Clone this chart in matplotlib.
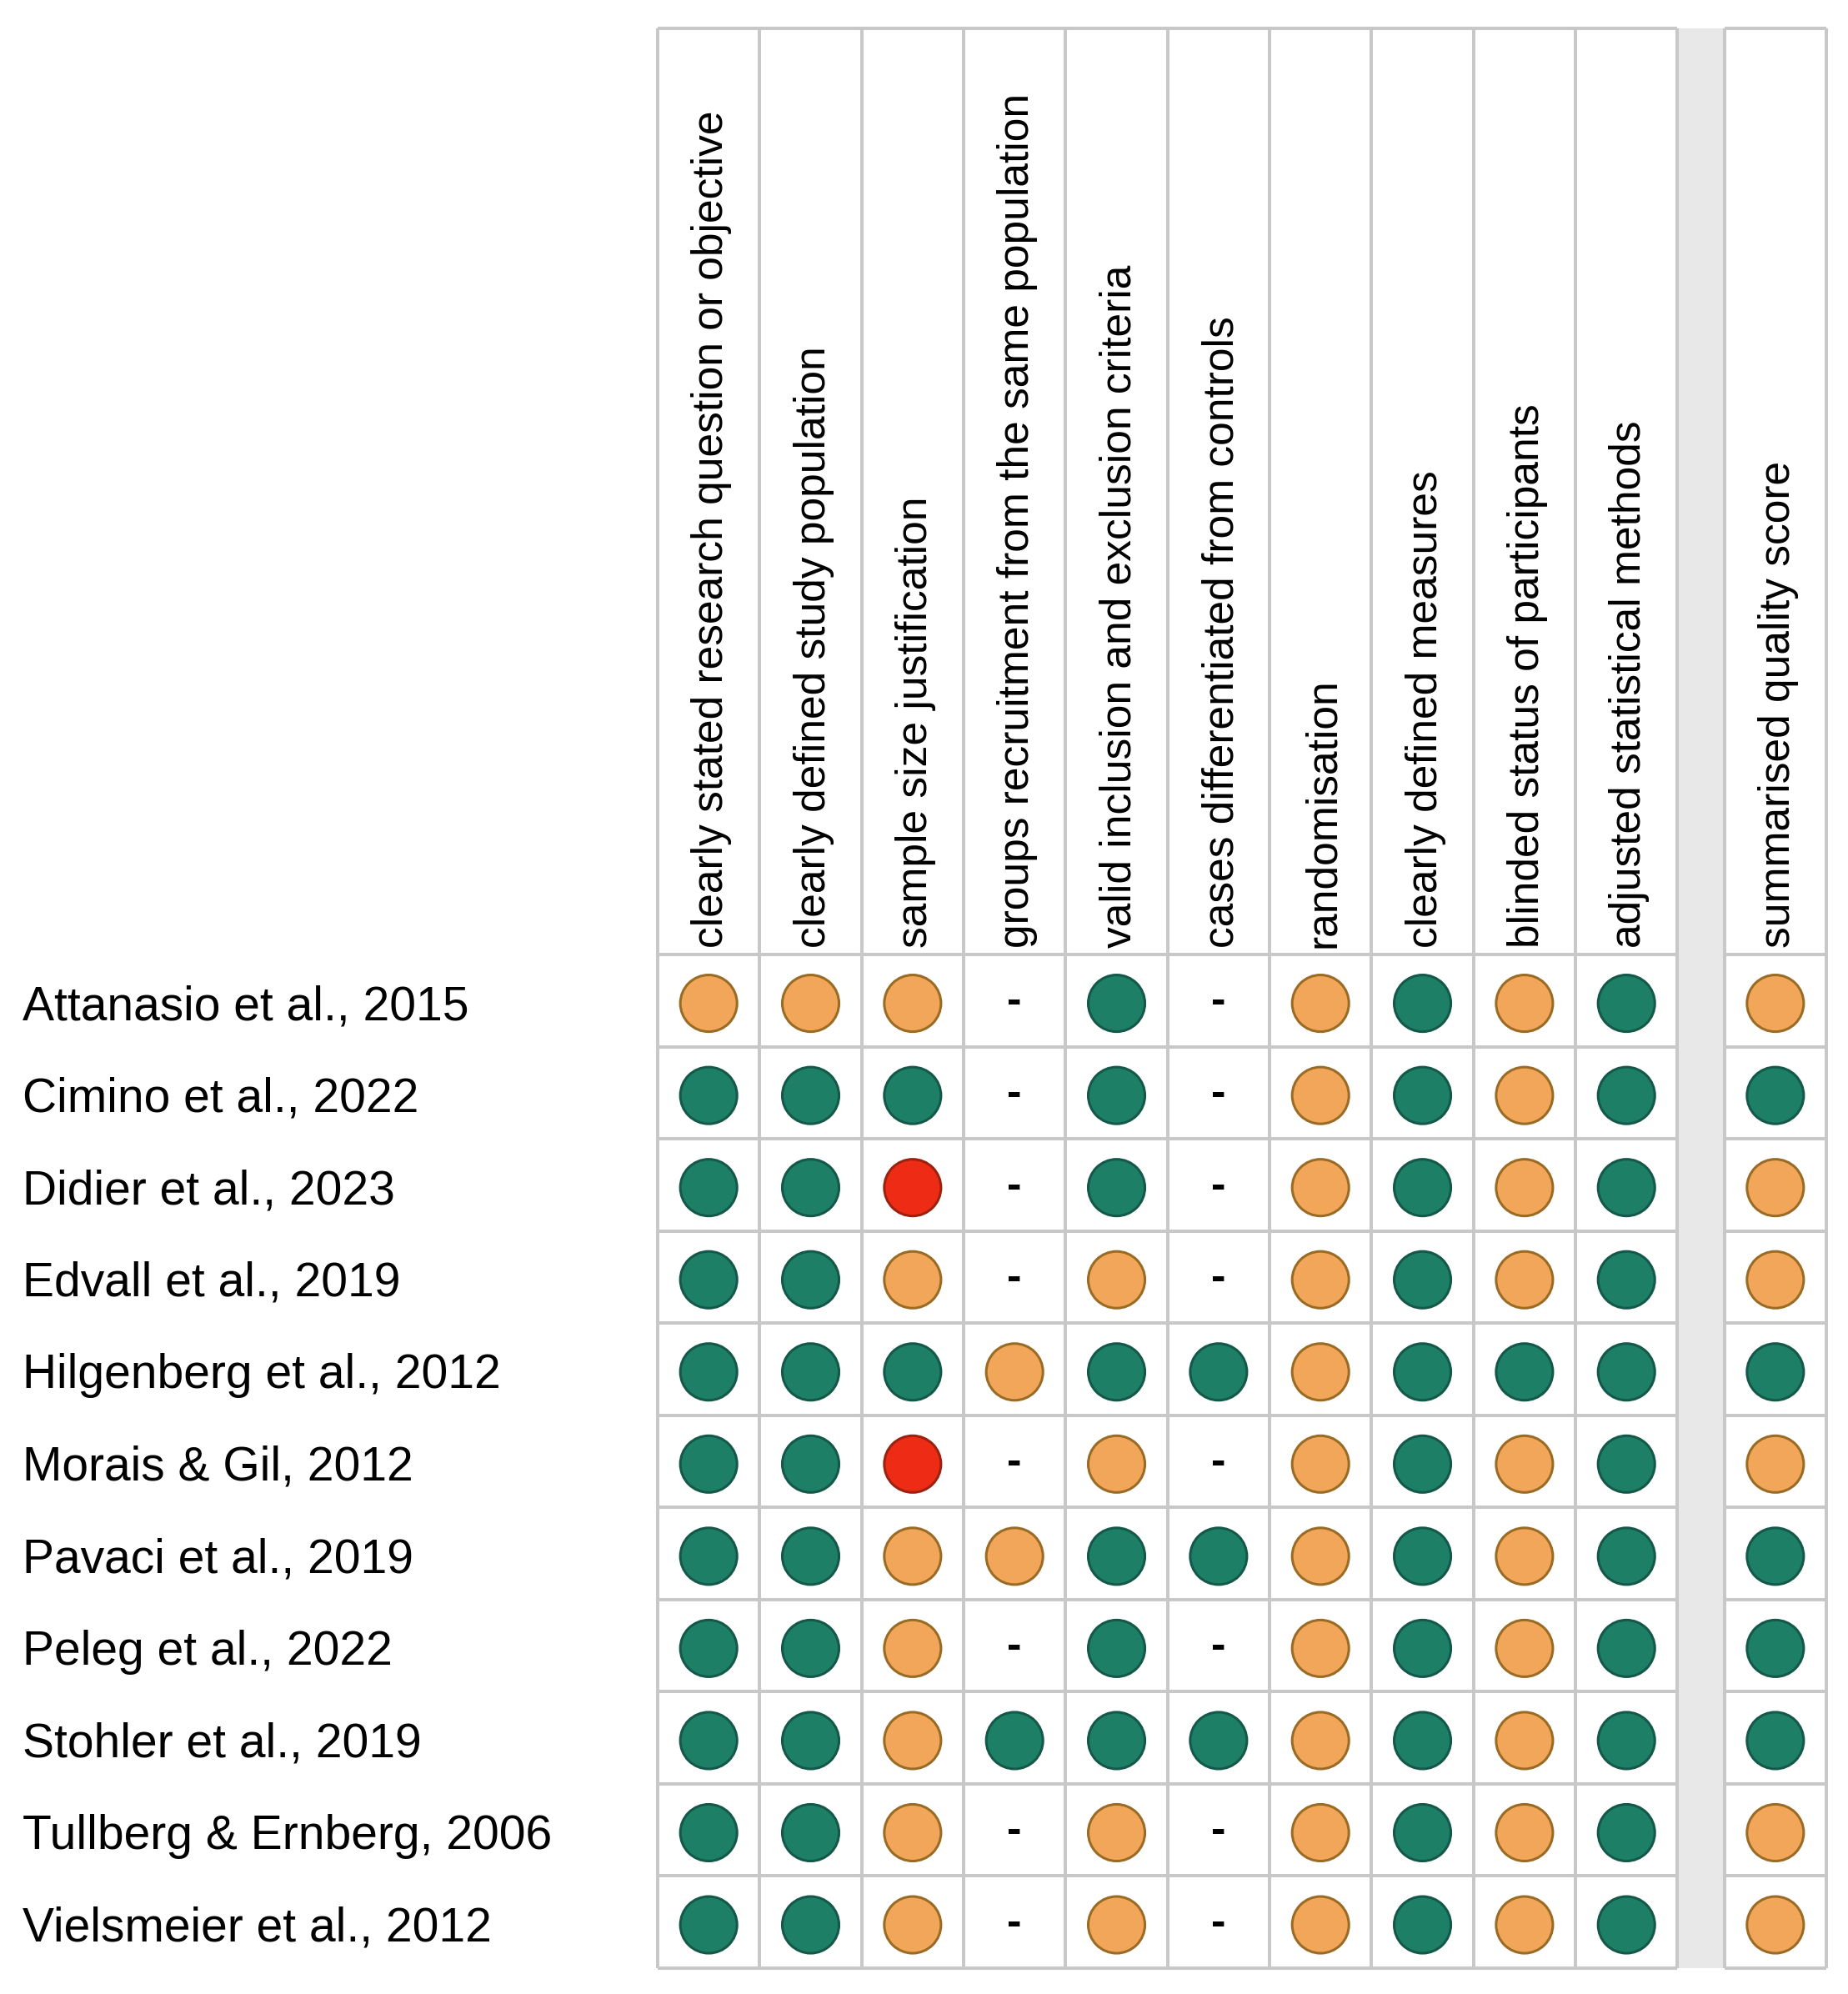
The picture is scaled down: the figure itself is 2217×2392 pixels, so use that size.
import matplotlib
matplotlib.use("Agg")
import matplotlib.pyplot as plt
import matplotlib.transforms as mtransforms

# quality assessment, one row per study
studies = [
    "Attanasio et al., 2015",
    "Cimino et al., 2022",
    "Didier et al., 2023",
    "Edvall et al., 2019",
    "Hilgenberg et al., 2012",
    "Morais & Gil, 2012",
    "Pavaci et al., 2019",
    "Peleg et al., 2022",
    "Stohler et al., 2019",
    "Tullberg & Ernberg, 2006",
    "Vielsmeier et al., 2012",
]
criteria = [
    "clearly stated research question or objective",
    "clearly defined study population",
    "sample size justification",
    "groups recruitment from the same population",
    "valid inclusion and exclusion criteria",
    "cases differentiated from controls",
    "randomisation",
    "clearly defined measures",
    "blinded status of participants",
    "adjusted statistical methods",
]
summary_label = "summarised quality score"

# G = good, F = fair, P = poor, - = not applicable
ratings = [
    ["F", "F", "F", "-", "G", "-", "F", "G", "F", "G"],
    ["G", "G", "G", "-", "G", "-", "F", "G", "F", "G"],
    ["G", "G", "P", "-", "G", "-", "F", "G", "F", "G"],
    ["G", "G", "F", "-", "F", "-", "F", "G", "F", "G"],
    ["G", "G", "G", "F", "G", "G", "F", "G", "G", "G"],
    ["G", "G", "P", "-", "F", "-", "F", "G", "F", "G"],
    ["G", "G", "F", "F", "G", "G", "F", "G", "F", "G"],
    ["G", "G", "F", "-", "G", "-", "F", "G", "F", "G"],
    ["G", "G", "F", "G", "G", "G", "F", "G", "F", "G"],
    ["G", "G", "F", "-", "F", "-", "F", "G", "F", "G"],
    ["G", "G", "F", "-", "F", "-", "F", "G", "F", "G"],
]
summary = ["F", "G", "F", "F", "G", "F", "G", "G", "G", "F", "F"]

fill = {"G": "#1d7f66", "F": "#f2a65a", "P": "#ee2b14"}
edge = {"G": "#14584a", "F": "#9a6b25", "P": "#9c2210"}
line_col = "#c8c8c8"
band_col = "#e8e8e8"
family = ["Liberation Sans", "DejaVu Sans"]

n_rows = len(studies)
n_cols = len(criteria)
gap = 0.46
sum_x0 = n_cols + gap
head_top = -10.05

fig = plt.figure(figsize=(22.17, 23.92), dpi=100)
ax = fig.add_axes([789 / 2217, 31 / 2392, 1402 / 2217, 2327 / 2392])
ax.set_xlim(0, sum_x0 + 1)
ax.set_ylim(n_rows, head_top)
ax.axis("off")

# grey separator band between criteria and summary
ax.axvspan(n_cols, sum_x0, color=band_col, zorder=0)

lw = 2.9
rows_y = [head_top] + list(range(n_rows + 1))
ax.vlines(range(n_cols + 1), head_top, n_rows, color=line_col, lw=lw, clip_on=False, zorder=1)
ax.vlines([sum_x0, sum_x0 + 1], head_top, n_rows, color=line_col, lw=lw, clip_on=False, zorder=1)
ax.hlines(rows_y, 0, n_cols, color=line_col, lw=lw, clip_on=False, zorder=1)
ax.hlines(rows_y, sum_x0, sum_x0 + 1, color=line_col, lw=lw, clip_on=False, zorder=1)

# ratings
xs, ys, cs, es = [], [], [], []
for r, row in enumerate(ratings):
    for c, val in enumerate(row + [summary[r]]):
        x = c + 0.5 if c < n_cols else sum_x0 + 0.5
        if val == "-":
            ax.text(x, r + 0.52, "-", ha="center", va="center", fontsize=38,
                    family=family, fontweight="bold", zorder=3)
        else:
            xs.append(x)
            ys.append(r + 0.53)
            cs.append(fill[val])
            es.append(edge[val])
ax.scatter(xs, ys, s=2400, c=cs, edgecolors=es, linewidths=2.2, zorder=3)

# column headers
for c, name in enumerate(criteria + [summary_label]):
    x = c + 0.5 if c < n_cols else sum_x0 + 0.5
    ax.text(x + 0.03, -0.07, name, rotation=90, ha="center", va="bottom",
            fontsize=37.1, family=family, zorder=3)

# study names
trans = mtransforms.blended_transform_factory(fig.transFigure, ax.transData)
for r, name in enumerate(studies):
    ax.text(27 / 2217, r + 0.57, name, transform=trans, ha="left", va="center",
            fontsize=41, family=family)

fig.savefig("out.png", dpi=100, facecolor="white")
